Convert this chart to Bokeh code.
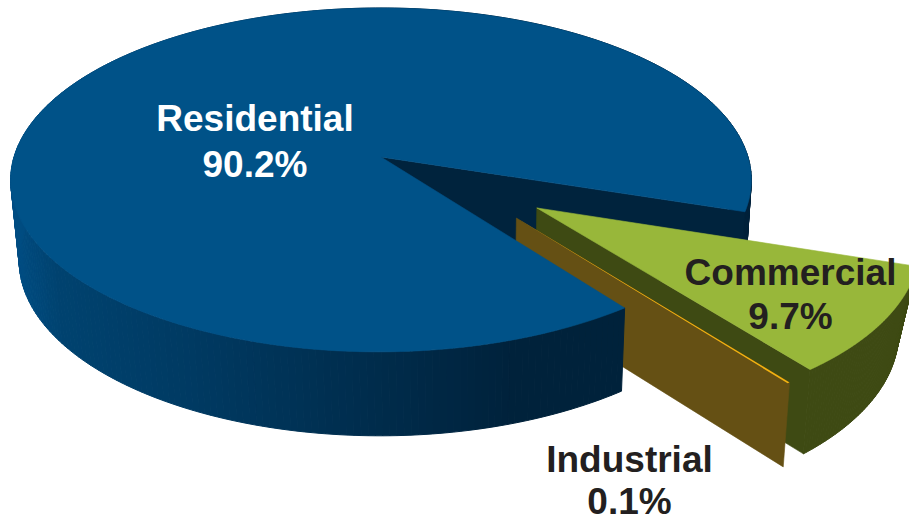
import numpy as np
from bokeh.core.properties import value
from bokeh.embed import file_html
from bokeh.models import Range1d
from bokeh.plotting import figure
from bokeh.resources import INLINE

# Sector shares, listed clockwise from the right-hand rim of the pie
categories = ["Commercial", "Industrial", "Residential"]
shares = [9.7, 0.1, 90.2]

# Appearance per sector
top_colors = {"Commercial": "#98b73a", "Industrial": "#f2b211", "Residential": "#005288"}
wall_colors = {"Commercial": "#3e4a13", "Industrial": "#655014", "Residential": "#00233d"}
text_colors = {"Commercial": "#231f20", "Industrial": "#231f20", "Residential": "#ffffff"}

# Pulled-out sectors: distance as a fraction of the radius, and direction in degrees
explode = {"Commercial": (0.5004, 35.37), "Industrial": (0.4925, 44.4), "Residential": (0.0, 0.0)}

# Label anchors on the page
label_pos = {"Commercial": (790, 272, 316), "Industrial": (629, 459, 501), "Residential": (254.5, 118, 164)}

# Horizontal colour ramp of the rim
ramp_x = [10, 60, 200, 370, 520, 760]
ramp_r = [0, 0, 0, 0, 0, 0]
ramp_g = [79, 67, 58, 45, 34, 34]
ramp_b = [133, 112, 98, 77, 59, 59]

START_ANGLE = 18.1
TILT = 0.134
TOP = dict(ax=380.5, ay=156.5, sx=367.0, sy=169.0)
BASE = dict(ax=382.0, ay=237.0, sx=360.0, sy=172.0)
SLICE_RADIUS = 0.985

W, H = 909, 521


def project(plane, u, v):
    """Perspective projection of disc coordinates onto the page."""
    w = 1 - TILT * np.asarray(v, dtype=float)
    return plane["ax"] + plane["sx"] * np.asarray(u) / w, plane["ay"] + plane["sy"] * np.asarray(v) / w


def rim_color(x):
    r = np.interp(x, ramp_x, ramp_r)
    g = np.interp(x, ramp_x, ramp_g)
    b = np.interp(x, ramp_x, ramp_b)
    return "#%02x%02x%02x" % (int(r), int(g), int(b))


spans = {}
a0 = START_ANGLE
for name, share in zip(categories, shares):
    a1 = a0 + share * 3.6
    spans[name] = (a0, a1)
    a0 = a1


def offset(name):
    dist, direction = explode[name]
    t = np.radians(direction)
    return dist * np.cos(t), dist * np.sin(t)


def radius(name, angle, base=False):
    """Outer radius of a sector: slightly flattened around the notch's near corner."""
    angle = np.asarray(angle, dtype=float)
    if name == "Residential":
        return 1 - 0.006 * np.exp(-(((angle - spans[name][0]) / 30.0) ** 2))
    r = np.full_like(angle, SLICE_RADIUS)
    if base:
        # The underside of the pulled-out slice curls in towards its far end
        r = r - 0.0008 * np.clip(spans["Industrial"][0] - angle, 0, None)
    return r


def arc(name, a_from, a_to, n=80, base=False):
    deg = np.linspace(a_from, a_to, n)
    t = np.radians(deg)
    r = radius(name, deg, base)
    ox, oy = offset(name)
    return ox + r * np.cos(t), oy + r * np.sin(t)


def top_face(name):
    a, b = spans[name]
    u, v = arc(name, a, b, 240)
    ox, oy = offset(name)
    return project(TOP, np.r_[ox, u], np.r_[oy, v])


def radial_wall(name, angle):
    ox, oy = offset(name)
    t = np.radians(angle)
    r = float(radius(name, angle))
    u = np.array([ox, ox + r * np.cos(t)])
    v = np.array([oy, oy + r * np.sin(t)])
    xt, yt = project(TOP, u, v)
    xb, yb = project(BASE, u, v)
    return np.r_[xt, xb[::-1]], np.r_[yt, yb[::-1]]


def rim_strips(name, a_from, a_to, n, color=None):
    xt, yt = project(TOP, *arc(name, a_from, a_to, n))
    xb, yb = project(BASE, *arc(name, a_from, a_to, n, base=True))
    xs, ys, cs = [], [], []
    for i in range(n - 1):
        xs.append([xt[i], xt[i + 1], xb[i + 1], xb[i]])
        ys.append([yt[i], yt[i + 1], yb[i + 1], yb[i]])
        cs.append(color or rim_color((xt[i] + xb[i]) / 2))
    return xs, ys, cs


p = figure(width=W, height=H, x_range=Range1d(0, W), y_range=Range1d(H, 0),
           output_backend="svg", toolbar_location=None, min_border=0,
           background_fill_color="white", border_fill_color="white")
p.axis.visible = False
p.grid.visible = False
p.outline_line_color = None


def fill(x, y, color):
    p.patch(list(x), list(y), fill_color=color, line_color=color, line_width=0.6)


def fill_strips(strips):
    xs, ys, cs = strips
    p.patches(xs, ys, fill_color=cs, line_color=cs, line_width=1)


res_a, res_b = spans["Residential"]

# Far part of the main disc's rim, then the cut face inside the notch
fill_strips(rim_strips("Residential", 270, res_b, 90))
fill(*radial_wall("Residential", res_b), wall_colors["Residential"])

# Commercial slice
com_a, com_b = spans["Commercial"]
fill_strips(rim_strips("Commercial", com_a, com_b, 60, wall_colors["Commercial"]))
fill(*radial_wall("Commercial", com_b), wall_colors["Commercial"])
fill(*top_face("Commercial"), top_colors["Commercial"])

# Industrial sliver
ind_a, ind_b = spans["Industrial"]
fill(*radial_wall("Industrial", ind_a), wall_colors["Industrial"])
tx, ty = top_face("Industrial")
p.patch(list(tx), list(ty), fill_color=top_colors["Industrial"], line_color=None)

# Near part of the main disc and its top surface sit in front of both slices
fill_strips(rim_strips("Residential", res_a, 270, 220))
fill(*top_face("Residential"), top_colors["Residential"])

# Sector labels
for name, share in zip(categories, shares):
    x, y_name, y_share = label_pos[name]
    p.text([x, x], [y_name, y_share], text=[name, f"{share:.1f}%"],
           text_font=value("Liberation Sans"), text_font_style="bold",
           text_font_size="37px", text_color=text_colors[name],
           text_align="center", text_baseline="middle")

open("out.html", "w").write(file_html(p, INLINE))
